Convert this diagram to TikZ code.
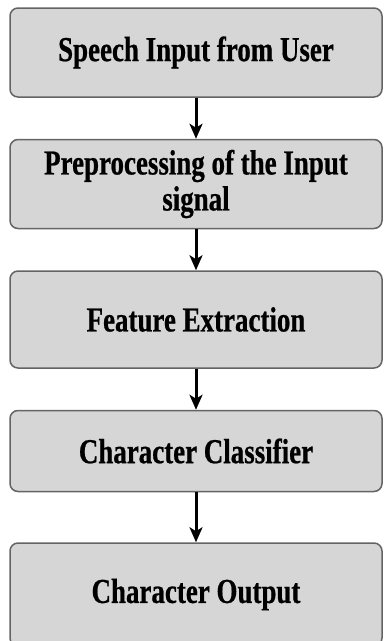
\documentclass[tikz,border=0pt]{standalone}
\usepackage{fontspec}
\setmainfont{Liberation Serif}[FakeStretch=0.77,FakeBold=0.6]
\usetikzlibrary{arrows.meta,positioning}

\definecolor{boxfill}{RGB}{214,214,214}
\definecolor{boxline}{RGB}{100,100,100}

\begin{document}
\begin{tikzpicture}[->,>={Stealth[length=15pt,width=13pt,inset=4pt]},auto,node distance=41pt,
  step box/.style={rectangle,rounded corners=8pt,draw=boxline,line width=1.5pt,
    fill=boxfill,text width=364pt,inner xsep=4pt,align=flush center,
    font=\bfseries\fontsize{35}{36}\selectfont}]

  \useasboundingbox (0,0) rectangle (385pt,-641pt);

  \node[step box, minimum height=89pt] (speech) at (196pt,-52.5pt) {Speech Input from User};
  \node[step box, minimum height=89pt] (prep) [below=of speech] {Preprocessing of the Input\\signal};
  \node[step box, minimum height=97pt] (feat) [below=of prep] {Feature Extraction};
  \node[step box, minimum height=81pt] (clas) [below=of feat] {Character Classifier};
  \node[step box, minimum height=103pt] (out) [below=50pt of clas] {Character Output};

  \path[line width=3pt]
    (speech) edge (prep)
    (prep) edge (feat)
    (feat) edge (clas)
    (clas) edge (out);
\end{tikzpicture}
\end{document}
